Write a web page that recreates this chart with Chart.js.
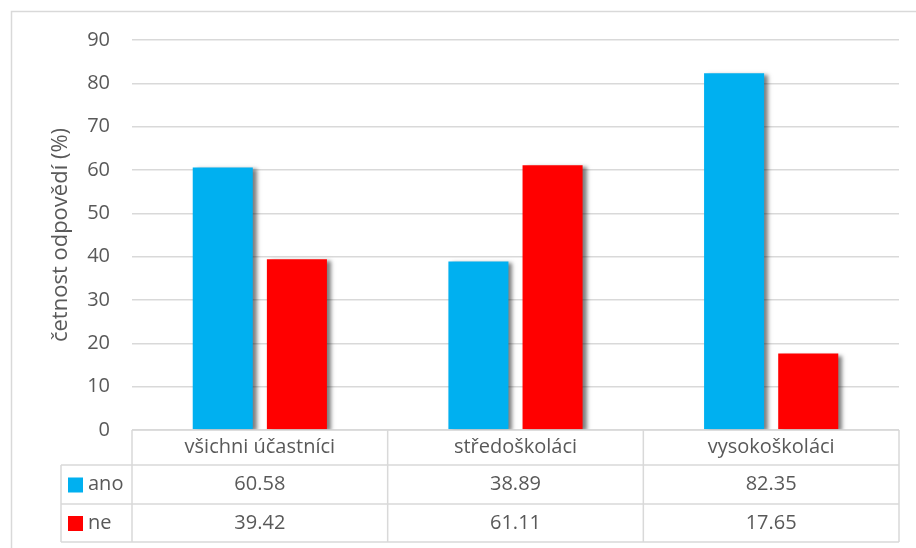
<!DOCTYPE html>
<html>
<head>
<meta charset="utf-8">
<script src="https://cdn.jsdelivr.net/npm/chart.js@4.4.0/dist/chart.umd.min.js"></script>
<style>
  html, body { margin: 0; padding: 0; background: #fff; }
  #wrap { width: 916px; height: 548px; }
</style>
</head>
<body>
<div id="wrap"><canvas id="myChart" width="916" height="548"></canvas></div>
<script>
var categories = ['všichni účastníci', 'středoškoláci', 'vysokoškoláci'];
var seriesNames = ['ano', 'ne'];
var anoValues = [60.58, 38.89, 82.35];
var neValues = [39.42, 61.11, 17.65];
var seriesColors = ['#00B0F0', '#FF0000'];
var yTitle = 'četnost odpovědí (%)';

var FONT = '"Open Sans", "Noto Sans", sans-serif';
var TEXT = '#595959';
var LINE = '#d9d9d9';

// shadow under the bars, like the office chart
var barShadow = {
  id: 'barShadow',
  beforeDatasetsDraw: function (chart) {
    var ctx = chart.ctx;
    ctx.save();
    ctx.shadowColor = 'rgba(0,0,0,0.5)';
    ctx.shadowBlur = 4;
    ctx.shadowOffsetX = 4;
    ctx.shadowOffsetY = 2;
  },
  afterDatasetsDraw: function (chart) {
    chart.ctx.restore();
  }
};

// data table under the plot plus outer border
var dataTable = {
  id: 'dataTable',
  afterDraw: function (chart) {
    var ctx = chart.ctx;
    var area = chart.chartArea;
    var xs = chart.scales.x;
    var rowTop = [area.bottom, area.bottom + 35, area.bottom + 74, area.bottom + 112];
    var legendLeft = 61;
    var step = (area.right - area.left) / categories.length;

    ctx.save();
    ctx.strokeStyle = LINE;
    ctx.lineWidth = 1.5;

    // outer border
    ctx.strokeRect(11.5, 11.5, 912, 545);

    // horizontal lines
    ctx.beginPath();
    ctx.moveTo(area.left, rowTop[0]); ctx.lineTo(area.right, rowTop[0]);
    for (var r = 1; r < rowTop.length; r++) {
      ctx.moveTo(legendLeft, rowTop[r]); ctx.lineTo(area.right, rowTop[r]);
    }
    // vertical lines
    for (var c = 0; c <= categories.length; c++) {
      var x = area.left + step * c;
      ctx.moveTo(x, rowTop[0]); ctx.lineTo(x, rowTop[3]);
    }
    ctx.moveTo(legendLeft, rowTop[1]); ctx.lineTo(legendLeft, rowTop[3]);
    ctx.stroke();

    ctx.fillStyle = TEXT;
    ctx.font = '20px ' + FONT;
    ctx.textAlign = 'center';
    ctx.textBaseline = 'middle';
    categories.forEach(function (cat, i) {
      var cx = xs.getPixelForValue(i);
      ctx.fillText(cat, cx, (rowTop[0] + rowTop[1]) / 2);
    });
    var rows = [anoValues, neValues];
    rows.forEach(function (vals, r) {
      var cy = (rowTop[r + 1] + rowTop[r + 2]) / 2;
      vals.forEach(function (v, i) {
        ctx.fillStyle = TEXT;
        ctx.textAlign = 'center';
        ctx.fillText(v.toFixed(2), xs.getPixelForValue(i), cy);
      });
      ctx.fillStyle = seriesColors[r];
      ctx.fillRect(legendLeft + 7, cy - 7, 15, 15);
      ctx.fillStyle = TEXT;
      ctx.textAlign = 'left';
      ctx.fillText(seriesNames[r], legendLeft + 27, cy);
    });
    ctx.restore();
  }
};

var ctx = document.getElementById('myChart').getContext('2d');
new Chart(ctx, {
  type: 'bar',
  data: {
    labels: categories,
    datasets: [
      { label: seriesNames[0], data: anoValues, backgroundColor: seriesColors[0] },
      { label: seriesNames[1], data: neValues, backgroundColor: seriesColors[1] }
    ]
  },
  options: {
    responsive: false,
    animation: false,
    layout: { padding: { top: 40, bottom: 118, right: 17, left: 48 } },
    datasets: { bar: { categoryPercentage: 0.58, barPercentage: 0.81 } },
    plugins: {
      legend: { display: false },
      tooltip: { enabled: false }
    },
    scales: {
      x: {
        display: false
      },
      y: {
        min: 0,
        max: 90,
        afterFit: function (scale) { scale.width = 84; },
        ticks: {
          stepSize: 10,
          padding: 22,
          color: TEXT,
          font: { family: FONT, size: 20 }
        },
        grid: { color: LINE, lineWidth: 1.5, drawTicks: false },
        border: { display: false },
        title: {
          display: true,
          text: yTitle,
          color: TEXT,
          font: { family: FONT, size: 22 },
          padding: { top: 0, bottom: 0 }
        }
      }
    }
  },
  plugins: [barShadow, dataTable]
});
</script>
</body>
</html>
